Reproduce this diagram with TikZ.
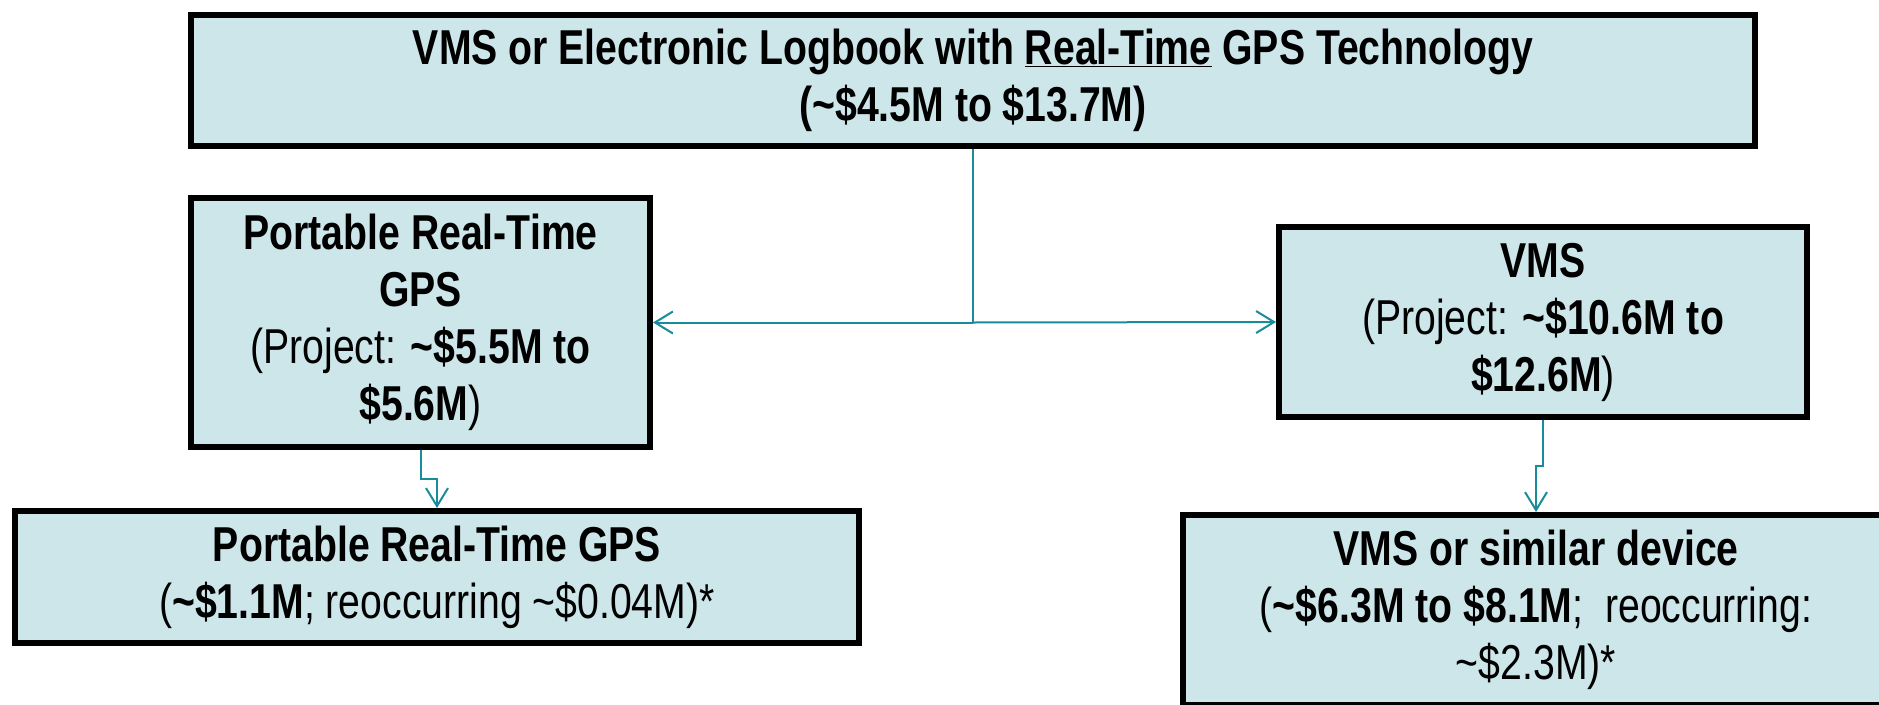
\documentclass[tikz,border=0pt]{standalone}
\usepackage{fontspec}
\setmainfont{Liberation Sans}[FakeStretch=0.80]
\usetikzlibrary{arrows.meta}
\definecolor{boxfill}{RGB}{205,230,234}
\definecolor{linkteal}{RGB}{24,140,154}
\begin{document}
\begin{tikzpicture}[x=1pt,y=-1pt,
    box/.style={draw=black,line width=6pt,fill=boxfill,inner sep=0pt,align=center,
      font=\fontsize{49}{57}\selectfont},
    link/.style={draw=linkteal,line width=2pt},
    tip/.style={link,-{Straight Barb[length=18pt,width=22pt,line width=2pt]}}]
         \clip (0,0) rectangle (1879,704) ;
         %\draw[very thin,gray,step=50] (0,0) grid (1879,704) ;
         \node[box,minimum width=1564,minimum height=131] (gps) at (973,80.5)
         {\textbf{VMS or Electronic Logbook with \underline{Real-Time} GPS Technology}\\
          \textbf{(\textasciitilde\$4.5M to \$13.7M)}} ;
         \node[box,minimum width=459,minimum height=249] (port) at (420.5,322.5)
         {\textbf{Portable Real-Time}\\ \textbf{GPS}\\
          (Project: \textbf{\textasciitilde\$5.5M to}\\ \textbf{\$5.6M})} ;
         \node[box,minimum width=528,minimum height=190] (vms) at (1543,322)
         {\textbf{VMS}\\ (Project: \textbf{\textasciitilde\$10.6M to}\\ \textbf{\$12.6M})} ;
         \node[box,minimum width=844,minimum height=132] (portdev) at (437,577)
         {\textbf{Portable Real-Time GPS}\\
          (\textbf{\textasciitilde\$1.1M}; reoccurring \textasciitilde\$0.04M)*} ;
         \node[box,minimum width=706,minimum height=190] (vmsdev) at (1536,610)
         {\textbf{VMS or similar device}\\
          (\textbf{\textasciitilde\$6.3M to \$8.1M};~ reoccurring:\\ \textasciitilde\$2.3M)*} ;
         % split under the top box
         \coordinate (split) at (gps.south |- port.east) ;
         \draw[link] (gps.south) -- (split) ;
         \draw[tip] (split) -- (port.east) ;
         \draw[tip] (split) -- (vms.west) ;
         \draw[tip] (port.south) -- ++(0,29) -| (portdev.north) ;
         \draw[tip] (vms.south) -- ++(0,46) -| (vmsdev.north) ;
       \end{tikzpicture}
\end{document}
